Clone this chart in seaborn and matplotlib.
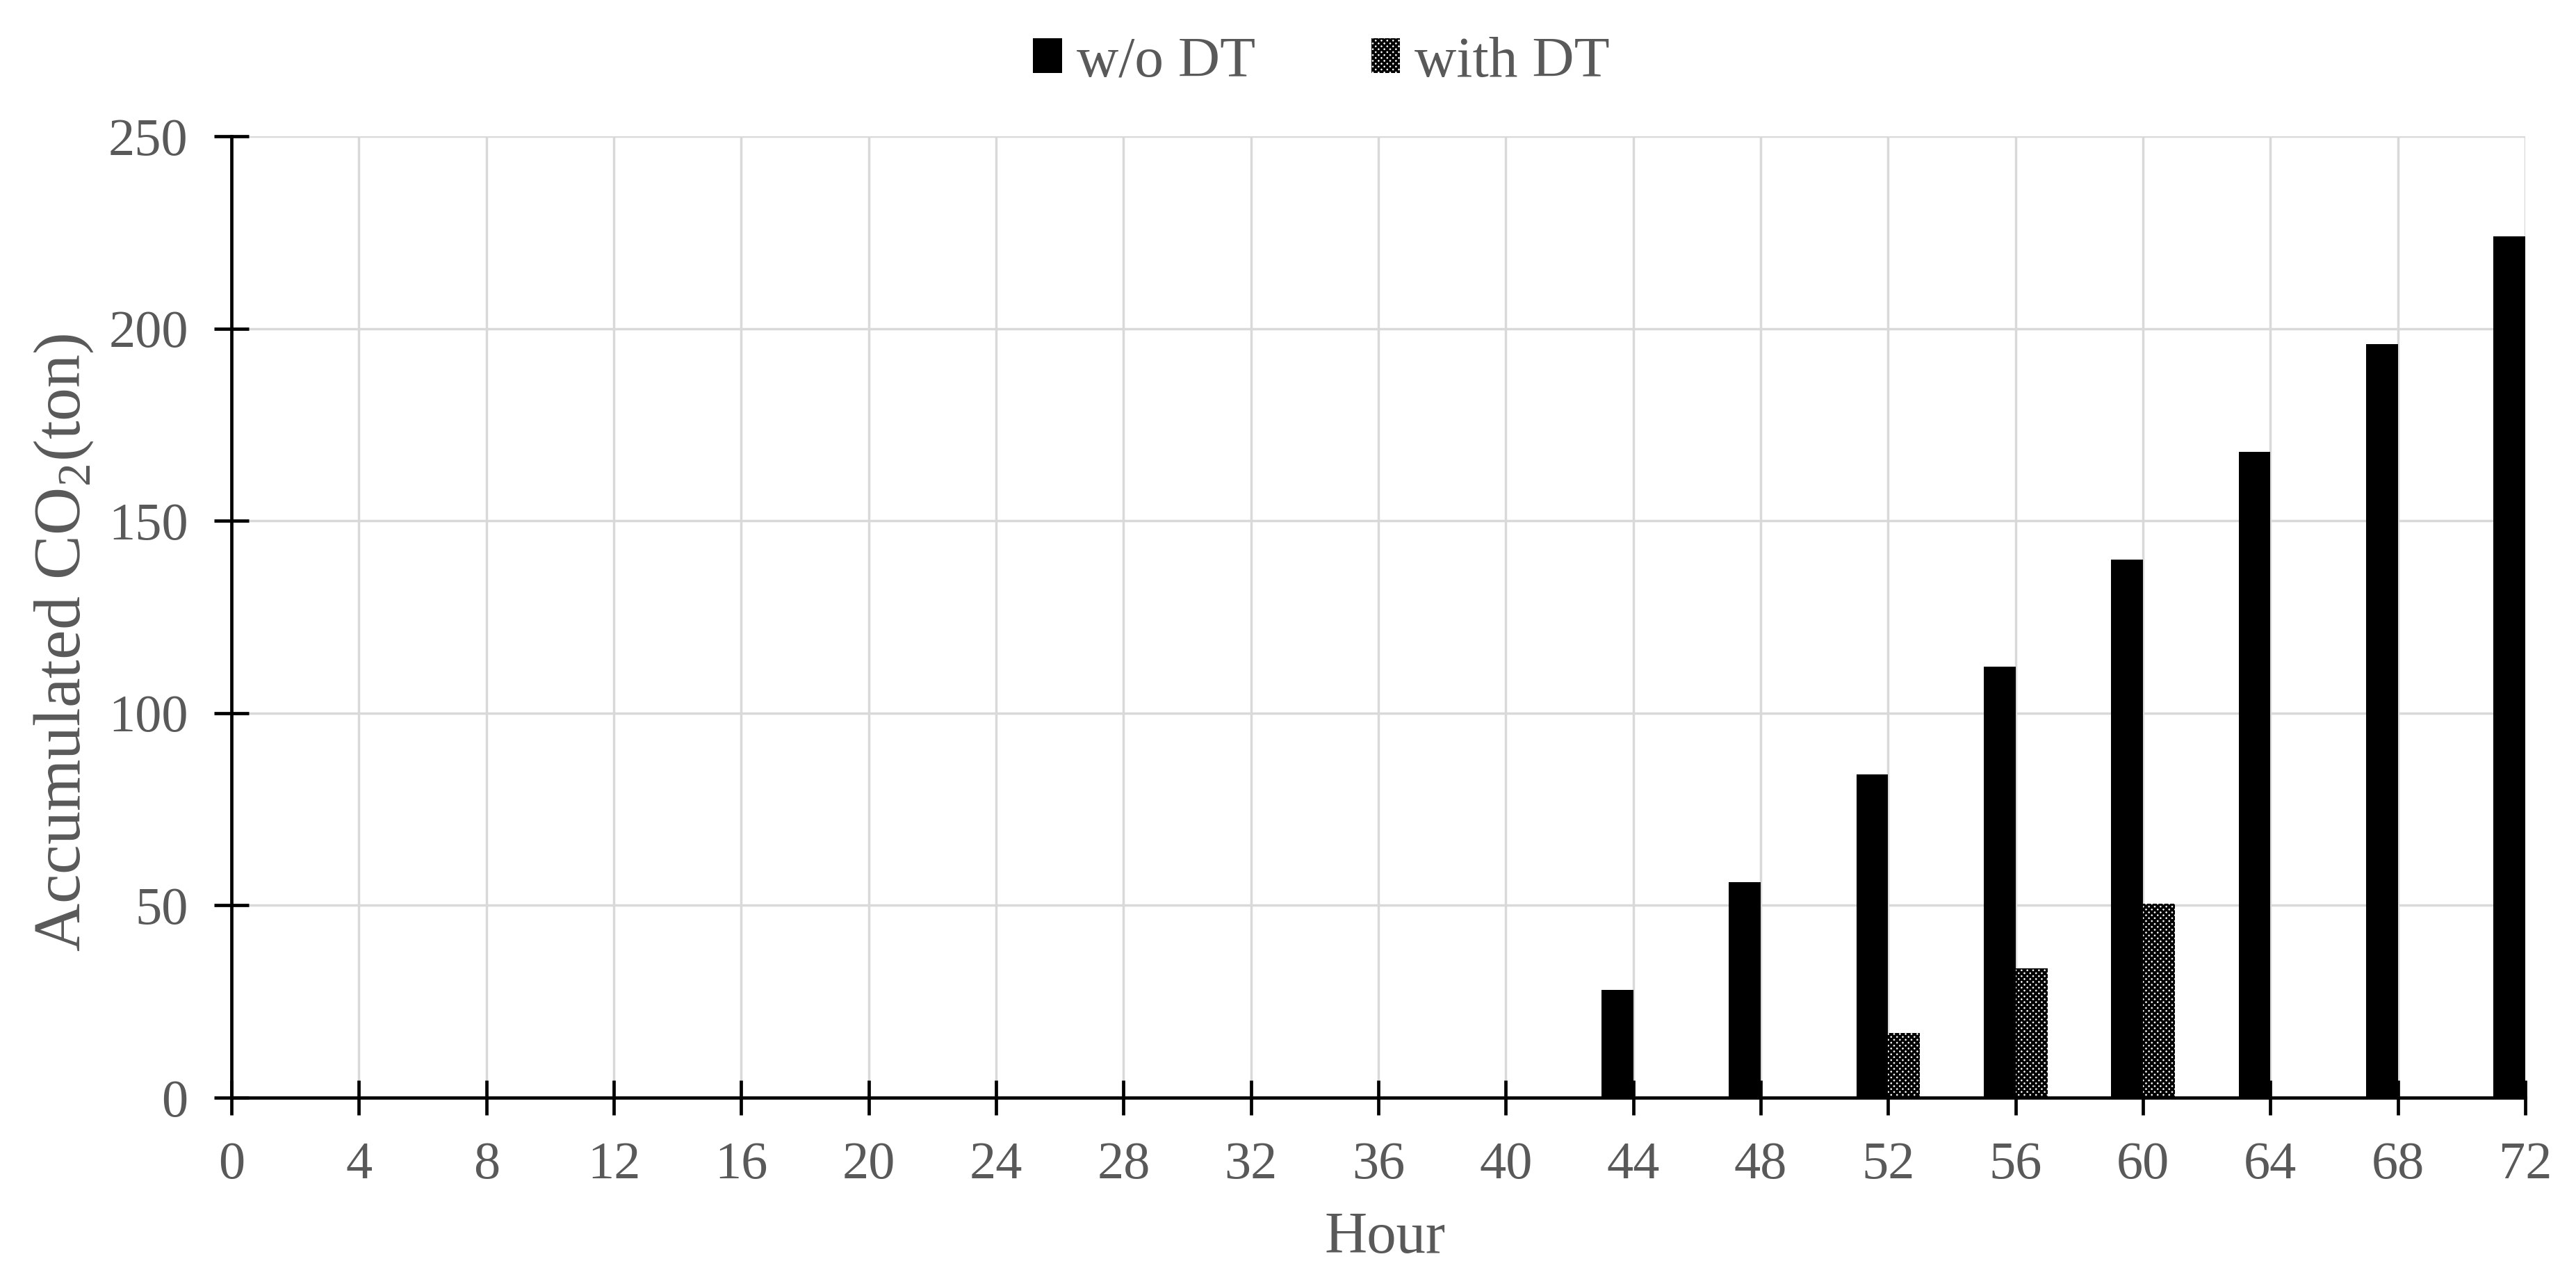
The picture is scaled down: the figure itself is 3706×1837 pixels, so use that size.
import matplotlib
matplotlib.use("Agg")
import matplotlib.pyplot as plt
import seaborn as sns
import pandas as pd
from matplotlib.patches import Patch

hours = [0, 4, 8, 12, 16, 20, 24, 28, 32, 36, 40, 44, 48, 52, 56, 60, 64, 68, 72]
wo_dt = [0, 0, 0, 0, 0, 0, 0, 0, 0, 0, 0, 28, 56, 84, 112, 140, 168, 196, 224]
with_dt = [0, 0, 0, 0, 0, 0, 0, 0, 0, 0, 0, 0, 0, 16.8, 33.6, 50.4, 0, 0, 0]
series_names = ["w/o DT", "with DT"]
y_ticks = [0, 50, 100, 150, 200, 250]

df = pd.DataFrame({
    "Hour": hours * 2,
    "Value": wo_dt + with_dt,
    "Series": [series_names[0]] * len(hours) + [series_names[1]] * len(hours),
})

sns.set_theme(style="white")
plt.rcParams["font.family"] = ["Liberation Serif", "DejaVu Serif"]
plt.rcParams["hatch.linewidth"] = 2.5
plt.rcParams["mathtext.fontset"] = "custom"
plt.rcParams["mathtext.rm"] = "Liberation Serif"

TXT = "#595959"
fig = plt.figure(figsize=(37.06, 18.37), dpi=100)
ax = fig.add_axes([0.0899, 0.1404, 0.8904, 0.7529])

sns.barplot(data=df, x="Hour", y="Value", hue="Series", native_scale=True,
            palette={series_names[0]: "black", series_names[1]: "white"},
            width=0.5, dodge=True, linewidth=0, edgecolor="black",
            errorbar=None, ax=ax, legend=False, zorder=3)

for bar in ax.containers[1]:
    bar.set_hatch("xxxx")
    bar.set_edgecolor("black")
    bar.set_linewidth(0)

ax.set_xlim(0, 72)
ax.set_ylim(0, 250)
ax.set_xticks(hours)
ax.set_xticklabels([str(h) for h in hours])
ax.set_yticks(y_ticks)
ax.set_yticklabels([str(v) for v in y_ticks])

ax.grid(True, axis="both", color="#d9d9d9", linewidth=2.5, zorder=0)
ax.set_axisbelow(True)
for s in ["top", "right"]:
    ax.spines[s].set_visible(False)
for s in ["left", "bottom"]:
    ax.spines[s].set_color("black")
    ax.spines[s].set_linewidth(3.4)
    ax.spines[s].set_zorder(4)

ax.tick_params(axis="both", which="major", bottom=True, left=True,
               direction="inout", length=36, width=3.4,
               color="black", labelsize=55, labelcolor=TXT, pad=27)

ax.set_xlabel("Hour", fontsize=61, color=TXT)
ax.xaxis.set_label_coords(0.503, -0.1186)
ax.set_ylabel("Accumulated CO$_2$(ton)", fontsize=69, color=TXT)
ax.yaxis.set_label_coords(-0.0594, 0.4736)

handles = [Patch(facecolor="black", edgecolor="black", linewidth=0),
           Patch(facecolor="white", edgecolor="black", hatch="xxxx", linewidth=0)]
leg = fig.legend(handles, series_names, loc="center", bbox_to_anchor=(0.513, 0.951),
                 ncol=2, frameon=False, fontsize=60, handlelength=0.5,
                 handleheight=0.55, handletextpad=0.25, columnspacing=2.0)
for t in leg.get_texts():
    t.set_color(TXT)

fig.savefig("out.png", dpi=100, facecolor="white")
